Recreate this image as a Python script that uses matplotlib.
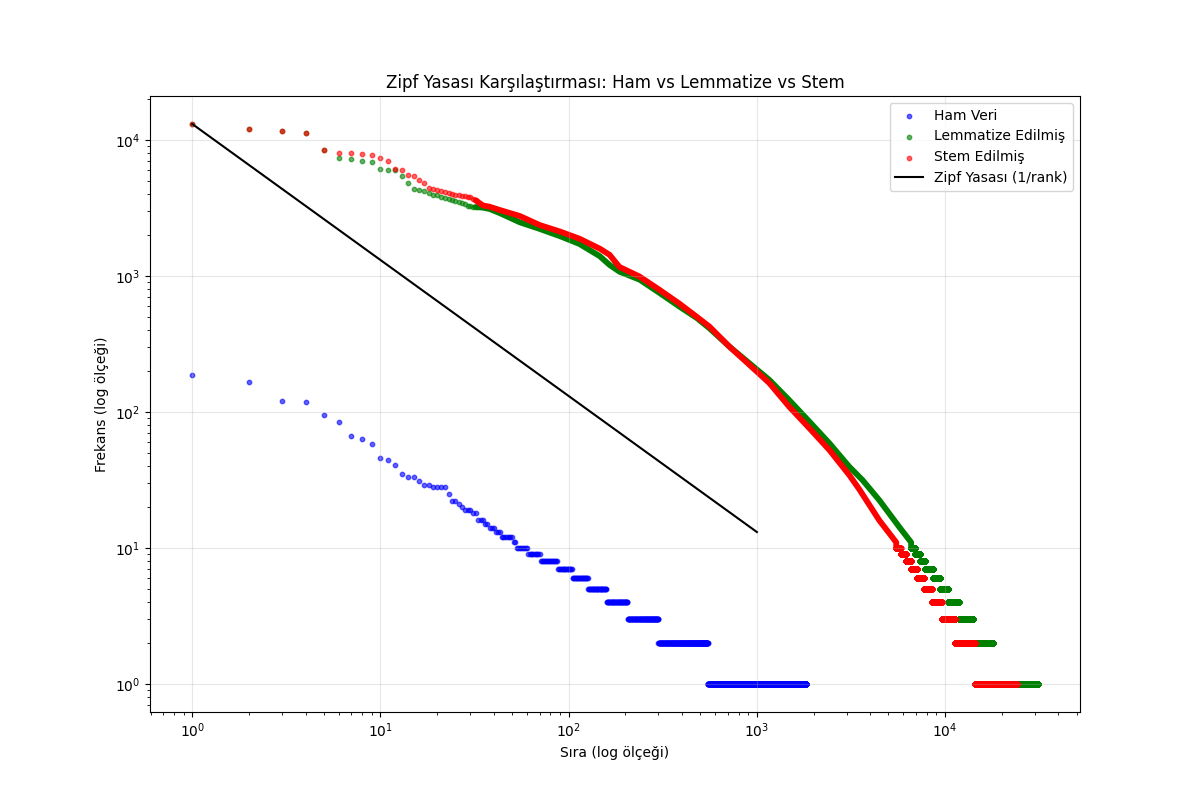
import numpy as np
import matplotlib
matplotlib.use("Agg")
import matplotlib.pyplot as plt

# ---------------- Data ----------------
# Ham (raw) data: frequencies of the first ranks, then runs of equal frequency
ham_head_freq = [186, 166, 120, 118, 95, 84, 67, 63, 58, 46, 44, 41, 35, 33, 33, 31,
                 29, 29, 28, 28, 28, 28, 25, 22, 22, 21, 20, 19, 19, 19, 18, 18,
                 16, 16, 16]
ham_tail_freq = [15, 14, 13, 12, 11, 10, 9, 8, 7, 6, 5, 4, 3, 2, 1]
ham_tail_last_rank = [37, 40, 43, 50, 52, 60, 70, 87, 104, 126, 158, 205, 299, 548, 1830]

# Lemmatized data
lemma_head_freq = [13100, 12100, 11600, 11200, 8440, 7330, 7210, 6970, 6860, 6090,
                   6060, 6030, 5430, 4810, 4330, 4280, 4200, 4060, 3960, 3920,
                   3810, 3760, 3700, 3620, 3560, 3520, 3420, 3360, 3290, 3260,
                   3230, 3210]
lemma_body_rank = [35, 38, 43, 55, 70, 90, 114, 146, 165, 186, 238, 304, 388, 480,
                   560, 715, 913, 1165, 1487, 1900, 2425, 3095, 3640, 4467, 5700, 6600]
lemma_body_freq = [3180, 3110, 2900, 2480, 2220, 1960, 1720, 1400, 1205, 1076, 940,
                   750, 595, 490, 412, 302, 228, 172, 122, 85, 59, 39.6, 31.6, 22.5,
                   14.3, 11]
lemma_tail_freq = [10, 9, 8, 7, 6, 5, 4, 3, 2, 1]
lemma_tail_last_rank = [6940, 7380, 7840, 8610, 9420, 10350, 11800, 14050, 18070, 31060]

# Stemmed data
stem_head_freq = [13100, 12100, 11600, 11200, 8440, 7980, 7980, 7850, 7720, 7330,
                  7000, 6090, 6000, 5500, 5430, 5100, 4810, 4430, 4340, 4250,
                  4180, 4110, 4060, 4010, 3970, 3930, 3890, 3860, 3820, 3780,
                  3680, 3600]
stem_body_rank = [35, 38, 43, 55, 70, 90, 114, 146, 165, 186, 238, 304, 388, 480,
                  560, 715, 913, 1165, 1487, 1900, 2425, 3095, 3500, 4467, 5500]
stem_body_freq = [3300, 3230, 3055, 2760, 2370, 2120, 1880, 1590, 1430, 1165, 990,
                  790, 625, 500, 424, 302, 222, 163, 109, 76, 52.6, 34.4, 27, 16, 11]
stem_tail_freq = [10, 9, 8, 7, 6, 5, 4, 3, 2, 1]
stem_tail_last_rank = [5800, 6180, 6580, 7100, 7700, 8480, 9580, 11280, 14400, 24000]

# Zipf reference line end points
zipf_ranks = [1, 1000]
zipf_freq = [13100, 13.1]

labels = ["Ham Veri", "Lemmatize Edilmiş", "Stem Edilmiş", "Zipf Yasası (1/rank)"]


def expand_runs(start_rank, levels, last_ranks):
    counts = np.diff(np.concatenate([[start_rank - 1], last_ranks]))
    ranks = np.arange(start_rank, last_ranks[-1] + 1)
    freqs = np.repeat(levels, counts)
    return ranks, freqs


fig = plt.figure(figsize=(12, 8), dpi=100)
ax = fig.add_subplot(111)

S = 10
A = 0.6
LW_BAND = 4.2

# Ham
hr = np.arange(1, len(ham_head_freq) + 1)
tr, tf = expand_runs(len(ham_head_freq) + 1, ham_tail_freq, ham_tail_last_rank)
ax.scatter(np.concatenate([hr, tr]), np.concatenate([ham_head_freq, tf]),
           s=S, alpha=A, color="blue", label=labels[0], zorder=1.0)


def draw_series(head, body_r, body_f, tail_levels, tail_last, color, label, z):
    hr = np.arange(1, len(head) + 1)
    tr, tf = expand_runs(body_r[-1] + 1, tail_levels, tail_last)
    ax.scatter(hr, head, s=S, alpha=A, color=color, label=label, zorder=z)
    line_r = np.concatenate([[hr[-1]], body_r, [tr[0]]])
    line_f = np.concatenate([[head[-1]], body_f, [tf[0]]])
    ax.plot(line_r, line_f, color=color, lw=LW_BAND, solid_capstyle="round",
            solid_joinstyle="round", zorder=z)
    ax.scatter(tr, tf, s=S, alpha=A, color=color, zorder=z)


draw_series(lemma_head_freq, lemma_body_rank, lemma_body_freq, lemma_tail_freq,
            lemma_tail_last_rank, "green", labels[1], 1.1)
draw_series(stem_head_freq, stem_body_rank, stem_body_freq, stem_tail_freq,
            stem_tail_last_rank, "red", labels[2], 1.2)

ax.plot(zipf_ranks, zipf_freq, color="black", lw=1.5, label=labels[3], zorder=3)

ax.set_xscale("log")
ax.set_yscale("log")
ax.set_xlabel("Sıra (log ölçeği)")
ax.set_ylabel("Frekans (log ölçeği)")
ax.set_title("Zipf Yasası Karşılaştırması: Ham vs Lemmatize vs Stem")
ax.grid(True, alpha=0.3)
ax.legend(loc="upper right")

fig.savefig("out.png", dpi=100)
